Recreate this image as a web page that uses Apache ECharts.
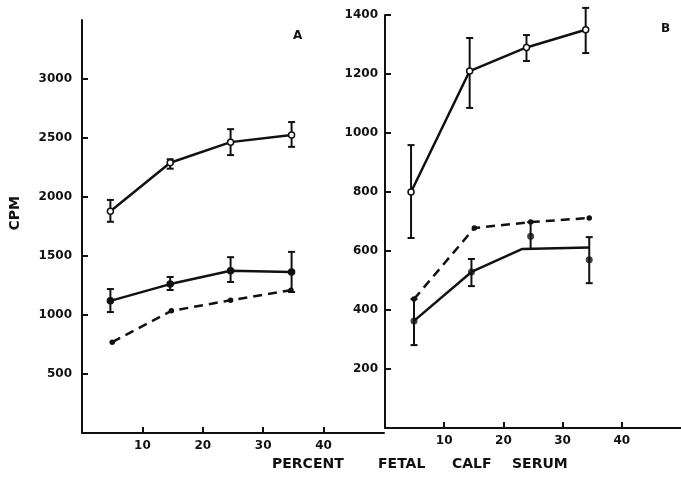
<!DOCTYPE html>
<html>
<head>
<meta charset="utf-8">
<script src="https://cdn.jsdelivr.net/npm/echarts@6/dist/echarts.min.js"></script>
<style>
  html, body { margin: 0; padding: 0; background: #fff; }
  #chart { width: 681px; height: 480px; }
</style>
</head>
<body>
<div id="chart"></div>
<script>
// Panel A (CPM, 0-3500)
const xTicks = [10, 20, 30, 40];
const aYTicks = [500, 1000, 1500, 2000, 2500, 3000];
const aOpenX = [4.7, 14.6, 24.6, 34.7];
const aOpen = [1880, 2290, 2465, 2525];
const aOpenLow = [1790, 2240, 2355, 2425];
const aOpenHigh = [1975, 2320, 2575, 2635];
const aFilledX = [4.7, 14.6, 24.6, 34.7];
const aFilled = [1120, 1262, 1375, 1365];
const aFilledLow = [1025, 1212, 1280, 1195];
const aFilledHigh = [1220, 1322, 1490, 1535];
const aDashedX = [5.0, 14.8, 24.6, 34.6];
const aDashed = [770, 1035, 1125, 1210];

// Panel B (CPM, 0-1400)
const bYTicks = [200, 400, 600, 800, 1000, 1200, 1400];
const bOpenX = [4.4, 14.3, 23.9, 33.9];
const bOpen = [800, 1210, 1290, 1350];
const bOpenLow = [644, 1085, 1244, 1271];
const bOpenHigh = [959, 1322, 1332, 1424];
const bSolidX = [4.9, 14.6, 23.2, 34.5];
const bSolid = [363, 529, 607, 612];
const bSolidErrX = [4.9, 14.6, 24.6, 34.5];
const bSolidLow = [281, 481, 607, 491];
const bSolidHigh = [437, 573, 698, 647];
const bFilledX = [4.9, 14.6, 24.6, 34.5];
const bFilled = [363, 529, 650, 570];
const bDashedX = [4.9, 15.1, 24.6, 34.5];
const bDashed = [437, 678, 698, 712];

const ink = '#111';
const labelFont = { color: ink, fontFamily: 'DejaVu Sans', fontWeight: 'bold', fontSize: 12 };

const pairs = (xs, ys) => xs.map((x, i) => [x, ys[i]]);
const errData = (xs, lo, hi) => xs.map((x, i) => [x, lo[i], hi[i]]);

function errorBars(xIdx, yIdx, data) {
  return {
    type: 'custom',
    xAxisIndex: xIdx,
    yAxisIndex: yIdx,
    data: data,
    z: 3,
    renderItem(params, api) {
      const lo = api.coord([api.value(0), api.value(1)]);
      const hi = api.coord([api.value(0), api.value(2)]);
      const w = 3.5;
      const style = { stroke: ink, lineWidth: 2 };
      return {
        type: 'group',
        children: [
          { type: 'line', shape: { x1: lo[0], y1: lo[1], x2: hi[0], y2: hi[1] }, style },
          { type: 'line', shape: { x1: lo[0] - w, y1: lo[1], x2: lo[0] + w, y2: lo[1] }, style },
          { type: 'line', shape: { x1: hi[0] - w, y1: hi[1], x2: hi[0] + w, y2: hi[1] }, style },
        ],
      };
    },
  };
}

function lineSeries(xIdx, yIdx, data, opts) {
  return {
    type: 'line',
    xAxisIndex: xIdx,
    yAxisIndex: yIdx,
    data: data,
    symbol: opts.symbol || 'none',
    symbolSize: opts.size || 6,
    itemStyle: { color: opts.fill || ink, borderColor: ink, borderWidth: 1.5 },
    lineStyle: { color: ink, width: 2.5, type: opts.dashed ? [9, 6] : 'solid' },
    z: 4,
    animation: false,
  };
}

function xAxisOpt(gridIndex) {
  return {
    type: 'value',
    gridIndex: gridIndex,
    min: 0,
    max: 50,
    axisLine: { lineStyle: { color: ink, width: 2 } },
    axisTick: { inside: true, length: 6, lineStyle: { color: ink, width: 2 }, customValues: xTicks },
    axisLabel: Object.assign({ margin: 7, customValues: xTicks, formatter: (v) => String(v) }, labelFont),
    splitLine: { show: false },
  };
}

function yAxisOpt(gridIndex, max, ticks, margin) {
  return {
    type: 'value',
    gridIndex: gridIndex,
    min: 0,
    max: max,
    axisLine: { show: true, lineStyle: { color: ink, width: 2 } },
    axisTick: { show: true, inside: true, length: 6, lineStyle: { color: ink, width: 2 }, customValues: ticks },
    axisLabel: Object.assign({ margin: margin, customValues: ticks, formatter: (v) => String(v) }, labelFont),
    splitLine: { show: false },
  };
}

const chart = echarts.init(document.getElementById('chart'), null, { renderer: 'canvas' });

chart.setOption({
  backgroundColor: '#fff',
  animation: false,
  grid: [
    { left: 82, top: 20, width: 302, bottom: 47 },
    { left: 385, top: 15, width: 302, bottom: 52 },
  ],
  xAxis: [xAxisOpt(0), xAxisOpt(1)],
  yAxis: [yAxisOpt(0, 3500, aYTicks, 10), yAxisOpt(1, 1400, bYTicks, 7)],
  series: [
    // panel A
    lineSeries(0, 0, pairs(aOpenX, aOpen), { symbol: 'circle', fill: '#fff', size: 6 }),
    errorBars(0, 0, errData(aOpenX, aOpenLow, aOpenHigh)),
    lineSeries(0, 0, pairs(aFilledX, aFilled), { symbol: 'circle', size: 6 }),
    errorBars(0, 0, errData(aFilledX, aFilledLow, aFilledHigh)),
    lineSeries(0, 0, pairs(aDashedX, aDashed), { symbol: 'circle', size: 4, dashed: true }),
    // panel B
    lineSeries(1, 1, pairs(bOpenX, bOpen), { symbol: 'circle', fill: '#fff', size: 6 }),
    errorBars(1, 1, errData(bOpenX, bOpenLow, bOpenHigh)),
    lineSeries(1, 1, pairs(bSolidX, bSolid), {}),
    errorBars(1, 1, errData(bSolidErrX, bSolidLow, bSolidHigh)),
    {
      type: 'scatter',
      xAxisIndex: 1,
      yAxisIndex: 1,
      data: pairs(bFilledX, bFilled),
      symbol: 'circle',
      symbolSize: 7,
      itemStyle: { color: ink },
      z: 5,
    },
    lineSeries(1, 1, pairs(bDashedX, bDashed), { symbol: 'circle', size: 4, dashed: true }),
  ],
  graphic: [
    { type: 'text', left: 8, top: 196, rotation: Math.PI / 2,
      style: { text: 'CPM', fill: ink, font: 'bold 14px "DejaVu Sans"' } },
    { type: 'text', left: 293, top: 30, style: { text: 'A', fill: ink, font: 'bold 12px "DejaVu Sans"' } },
    { type: 'text', left: 661, top: 23, style: { text: 'B', fill: ink, font: 'bold 12px "DejaVu Sans"' } },
    { type: 'text', left: 272, top: 457, style: { text: 'PERCENT', fill: ink, font: 'bold 14px "DejaVu Sans"' } },
    { type: 'text', left: 378, top: 457, style: { text: 'FETAL', fill: ink, font: 'bold 14px "DejaVu Sans"' } },
    { type: 'text', left: 452, top: 457, style: { text: 'CALF', fill: ink, font: 'bold 14px "DejaVu Sans"' } },
    { type: 'text', left: 512, top: 457, style: { text: 'SERUM', fill: ink, font: 'bold 14px "DejaVu Sans"' } },
  ],
});
</script>
</body>
</html>
